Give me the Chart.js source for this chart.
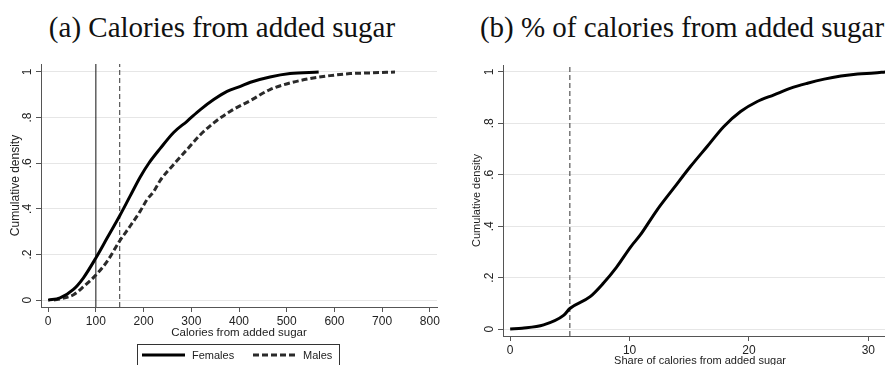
<!DOCTYPE html>
<html>
<head>
<meta charset="utf-8">
<script src="https://cdn.jsdelivr.net/npm/chart.js@4.4.1/dist/chart.umd.min.js"></script>
<style>
  html, body { margin: 0; padding: 0; background: #fff; }
  body { width: 885px; height: 365px; overflow: hidden; position: relative; }
  .panel-title {
    position: absolute; top: 13px;
    font-family: "Liberation Serif", serif; font-size: 29px; line-height: 29px;
    color: #111; white-space: nowrap; transform: translateX(-50%);
  }
  canvas { position: absolute; top: 0; }
</style>
</head>
<body>
<div class="panel-title" style="left:222px">(a) Calories from added sugar</div>
<div class="panel-title" style="left:682px">(b) % of calories from added sugar</div>
<canvas id="calChart" width="445" height="380" style="left:0"></canvas>
<canvas id="shareChart" width="460" height="380" style="left:445px"></canvas>
<script>
// cumulative density of calories from added sugar, by sex
const femaleCalories = [0, 25, 53, 74, 100, 123, 150, 172, 193, 211, 235, 263, 291, 319, 347, 375, 403, 424, 465, 507, 567];
const femaleDensity  = [0, 0.01, 0.047, 0.098, 0.185, 0.27, 0.37, 0.457, 0.54, 0.6, 0.665, 0.735, 0.784, 0.835, 0.879, 0.915, 0.937, 0.955, 0.978, 0.993, 1.0];
const maleCalories = [12, 30, 54, 75, 100, 124, 150, 172, 193, 207, 221, 235, 263, 291, 319, 347, 382, 424, 465, 507, 549, 591, 633, 675, 727];
const maleDensity  = [0, 0.008, 0.025, 0.061, 0.11, 0.171, 0.26, 0.325, 0.39, 0.44, 0.475, 0.525, 0.595, 0.66, 0.725, 0.777, 0.828, 0.875, 0.923, 0.952, 0.971, 0.984, 0.993, 0.996, 1.0];
const femaleCutoff = 100;
const maleCutoff = 150;

// cumulative density of the share of calories from added sugar
const sharePercent = [0, 1, 2.8, 4.5, 5, 6.7, 7.8, 8.9, 10.1, 10.9, 12.3, 13.7, 15.1, 16.5, 17.9, 19.3, 20.7, 22.1, 23.5, 24.9, 26.3, 27.7, 29.1, 30.5, 31.4];
const shareDensity = [0, 0.003, 0.016, 0.054, 0.08, 0.126, 0.178, 0.24, 0.32, 0.366, 0.463, 0.548, 0.632, 0.71, 0.788, 0.846, 0.885, 0.911, 0.937, 0.956, 0.972, 0.984, 0.992, 0.996, 1.0];
const shareCutoff = 5;

const calorieTicks = [0, 100, 200, 300, 400, 500, 600, 700, 800];
const shareTicks = [0, 10, 20, 30];
const densityTicks = [0, 0.2, 0.4, 0.6, 0.8, 1];
const densityTickLabels = ['0', '.2', '.4', '.6', '.8', '1'];

const SANS = '"Liberation Sans", Arial, sans-serif';
const INK = '#222';
const AXIS = '#555';
const GRID = '#e6e6e6';

const toPoints = (xs, ys) => xs.map((x, i) => ({ x, y: ys[i] }));
const vline = (x, y0, y1) => [{ x, y: y0 }, { x, y: y1 }];

// Stata style: y labels are turned on their side
const rotatedYLabels = {
  id: 'rotatedYLabels',
  afterDraw(chart, args, opts) {
    const scale = chart.scales.y;
    const ctx = chart.ctx;
    ctx.save();
    ctx.font = '12px ' + SANS;
    ctx.fillStyle = INK;
    ctx.textAlign = 'center';
    ctx.textBaseline = 'middle';
    scale.ticks.forEach((t, i) => {
      ctx.save();
      ctx.translate(opts.x, scale.getPixelForValue(t.value));
      ctx.rotate(-Math.PI / 2);
      ctx.fillText(densityTickLabels[i], 0, 0);
      ctx.restore();
    });
    ctx.restore();
  }
};

// boxed legend under the x axis
const boxLegend = {
  id: 'boxLegend',
  afterDraw(chart, args, opts) {
    if (!opts.items) return;
    const ctx = chart.ctx;
    ctx.save();
    ctx.strokeStyle = '#333';
    ctx.lineWidth = 1;
    ctx.strokeRect(opts.left + 0.5, opts.top + 0.5, opts.width, opts.height);
    ctx.font = '11px ' + SANS;
    ctx.fillStyle = INK;
    ctx.textBaseline = 'middle';
    opts.items.forEach(item => {
      const ds = chart.data.datasets[item.dataset];
      ctx.strokeStyle = ds.borderColor;
      ctx.lineWidth = ds.borderWidth;
      ctx.setLineDash(item.dash || []);
      ctx.beginPath();
      ctx.moveTo(item.x, opts.lineY);
      ctx.lineTo(item.x + item.len, opts.lineY);
      ctx.stroke();
      ctx.setLineDash([]);
      ctx.fillText(ds.label, item.textX, opts.lineY + 1);
    });
    ctx.restore();
  }
};

function densityAxis(min, max, width, titlePad) {
  return {
    type: 'linear', min, max,
    afterBuildTicks: s => { s.ticks = densityTicks.map(v => ({ value: v })); },
    afterFit: s => { s.width = width; },
    ticks: { display: false },
    grid: { color: GRID, lineWidth: 1, drawTicks: true, tickLength: 5, tickColor: AXIS },
    border: { color: AXIS, width: 1 },
    title: {
      display: true, text: 'Cumulative density', color: INK,
      font: { family: SANS, size: titlePad.size },
      padding: { top: titlePad.top, bottom: 0 }
    }
  };
}

function valueAxis(min, max, ticks, height, title, titleSize, titleBottom) {
  return {
    type: 'linear', min, max,
    afterBuildTicks: s => { s.ticks = ticks.map(v => ({ value: v })); },
    afterFit: s => { s.height = height; },
    ticks: {
      color: INK, font: { family: SANS, size: 12 }, padding: 2,
      maxRotation: 0, autoSkip: false,
      callback: v => String(v)
    },
    grid: { drawOnChartArea: false, drawTicks: true, tickLength: 5, tickColor: AXIS },
    border: { color: AXIS, width: 1 },
    title: {
      display: true, text: title, color: INK,
      font: { family: SANS, size: titleSize },
      padding: { top: 0, bottom: titleBottom }
    }
  };
}

const lineStyle = { showLine: true, pointRadius: 0, fill: false };

// (a) calories
const calYMin = -0.03, calYMax = 1.035;
new Chart(document.getElementById('calChart'), {
  type: 'scatter',
  data: {
    datasets: [
      { ...lineStyle, label: 'Females', data: toPoints(femaleCalories, femaleDensity),
        borderColor: '#000', borderWidth: 3, cubicInterpolationMode: 'monotone' },
      { ...lineStyle, label: 'Males', data: toPoints(maleCalories, maleDensity),
        borderColor: '#2a2a2a', borderWidth: 3, borderDash: [6, 3], cubicInterpolationMode: 'monotone' },
      { ...lineStyle, label: 'Female cutoff', data: vline(femaleCutoff, calYMin, calYMax),
        borderColor: '#111', borderWidth: 1 },
      { ...lineStyle, label: 'Male cutoff', data: vline(maleCutoff, calYMin, calYMax),
        borderColor: '#333', borderWidth: 1, borderDash: [5, 3] }
    ]
  },
  options: {
    responsive: false, animation: false, devicePixelRatio: 1, events: [],
    layout: { padding: { top: 64, right: 8, bottom: 0, left: 0 } },
    plugins: {
      legend: { display: false },
      tooltip: { enabled: false },
      rotatedYLabels: { x: 28 },
      boxLegend: {
        left: 137, top: 344, width: 202, height: 26, lineY: 355,
        items: [
          { dataset: 0, x: 142, len: 43, textX: 192 },
          { dataset: 1, x: 253, len: 43, textX: 303, dash: [6, 3] }
        ]
      }
    },
    scales: {
      x: valueAxis(-15, 815, calorieTicks, 73, 'Calories from added sugar', 11.5, 40),
      y: densityAxis(calYMin, calYMax, 41, { size: 12, top: 8 })
    }
  },
  plugins: [rotatedYLabels, boxLegend]
});

// (b) share of calories
const shareYMin = -0.027, shareYMax = 1.027;
new Chart(document.getElementById('shareChart'), {
  type: 'scatter',
  data: {
    datasets: [
      { ...lineStyle, label: 'All', data: toPoints(sharePercent, shareDensity),
        borderColor: '#000', borderWidth: 3, cubicInterpolationMode: 'monotone' },
      { ...lineStyle, label: 'Cutoff', data: vline(shareCutoff, shareYMin, shareYMax),
        borderColor: '#333', borderWidth: 1, borderDash: [5, 3] }
    ]
  },
  options: {
    responsive: false, animation: false, devicePixelRatio: 1, events: [],
    layout: { padding: { top: 65, right: 8, bottom: 0, left: 0 } },
    plugins: {
      legend: { display: false },
      tooltip: { enabled: false },
      rotatedYLabels: { x: 45 }
    },
    scales: {
      x: valueAxis(-0.6, 32.4, shareTicks, 44, 'Share of calories from added sugar', 11, 12),
      y: densityAxis(shareYMin, shareYMax, 58, { size: 11, top: 25 })
    }
  },
  plugins: [rotatedYLabels]
});
</script>
</body>
</html>
